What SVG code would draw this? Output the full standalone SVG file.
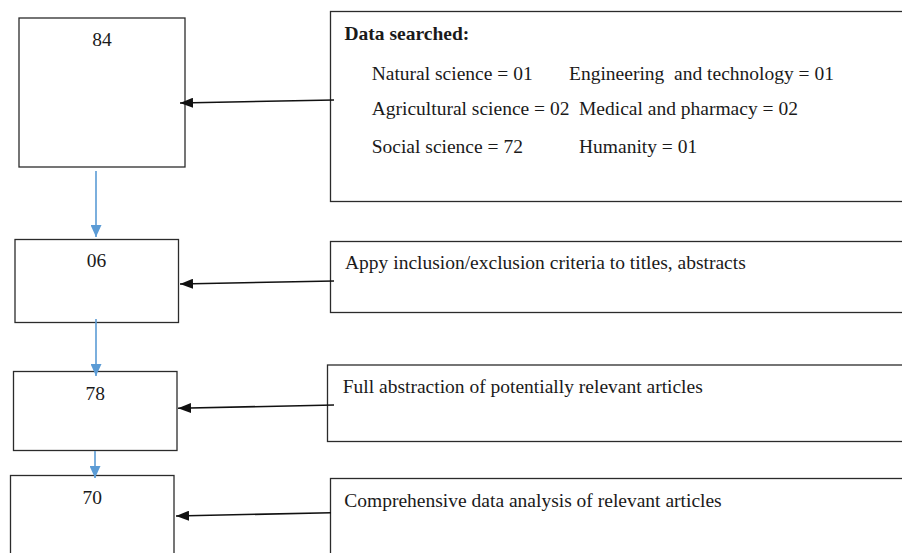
<svg xmlns="http://www.w3.org/2000/svg" width="902" height="553" viewBox="0 0 902 553">
<style>
.box{fill:#fff;stroke:#2b2b2b;stroke-width:1.3}
.t{font-family:'Liberation Serif',serif;font-size:19.5px;fill:#1a1a1a}
.b{font-weight:bold}
.blue{stroke:#5b9bd5;stroke-width:1.6;fill:none}
.blk{stroke:#111;stroke-width:1.6;fill:none}
</style>
<defs>
<marker id="ab" markerWidth="12" markerHeight="11" refX="12" refY="5.5" orient="auto" markerUnits="userSpaceOnUse">
<path d="M0,0 L12,5.5 L0,11 Z" fill="#5b9bd5"/>
</marker>
<marker id="ak" markerWidth="13" markerHeight="10" refX="13" refY="5" orient="auto" markerUnits="userSpaceOnUse">
<path d="M0,0 L13,5 L0,10 Z" fill="#111"/>
</marker>
</defs>
<g id="n84"><rect class="box" x="19" y="18" width="166" height="149"/><text class="t" x="102" y="46" text-anchor="middle">84</text></g>
<g id="n06"><rect class="box" x="15" y="239.5" width="163.5" height="83"/><text class="t" x="96.5" y="267" text-anchor="middle">06</text></g>
<g id="n78"><rect class="box" x="13.5" y="371.5" width="163.5" height="79"/><text class="t" x="95.3" y="400" text-anchor="middle">78</text></g>
<g id="n70"><rect class="box" x="10.5" y="475.5" width="163.5" height="90"/><text class="t" x="92.3" y="504" text-anchor="middle">70</text></g>
<g id="search"><rect class="box" x="330.5" y="11.5" width="590" height="190"/>
<text class="t b" x="344.5" y="40">Data searched:</text>
<text class="t" x="371.7" y="80">Natural science = 01</text>
<text class="t" x="569" y="80" xml:space="preserve">Engineering  and technology = 01</text>
<text class="t" x="371.7" y="115">Agricultural science = 02</text>
<text class="t" x="579" y="115">Medical and pharmacy = 02</text>
<text class="t" x="371.7" y="153">Social science = 72</text>
<text class="t" x="579" y="153">Humanity = 01</text>
</g>
<g id="apply"><rect class="box" x="330.5" y="241.5" width="590" height="71"/><text class="t" x="345" y="269">Appy inclusion/exclusion criteria to titles, abstracts</text></g>
<g id="full"><rect class="box" x="327.5" y="365" width="590" height="76.5"/><text class="t" x="342.7" y="393">Full abstraction of potentially relevant articles</text></g>
<g id="comp"><rect class="box" x="330.5" y="478.5" width="590" height="90"/><text class="t" x="344.3" y="507">Comprehensive data analysis of relevant articles</text></g>
<g id="connectors">
<line class="blue" x1="96" y1="171" x2="96" y2="237" marker-end="url(#ab)"/>
<line class="blue" x1="96" y1="319" x2="96" y2="376" marker-end="url(#ab)"/>
<line class="blue" x1="95" y1="451" x2="95" y2="478" marker-end="url(#ab)"/>
<line class="blk" x1="334" y1="100" x2="180" y2="103" marker-end="url(#ak)"/>
<line class="blk" x1="334" y1="281" x2="180" y2="284" marker-end="url(#ak)"/>
<line class="blk" x1="334" y1="405" x2="178" y2="408.3" marker-end="url(#ak)"/>
<line class="blk" x1="331" y1="512.7" x2="176" y2="516" marker-end="url(#ak)"/>
</g>
</svg>
